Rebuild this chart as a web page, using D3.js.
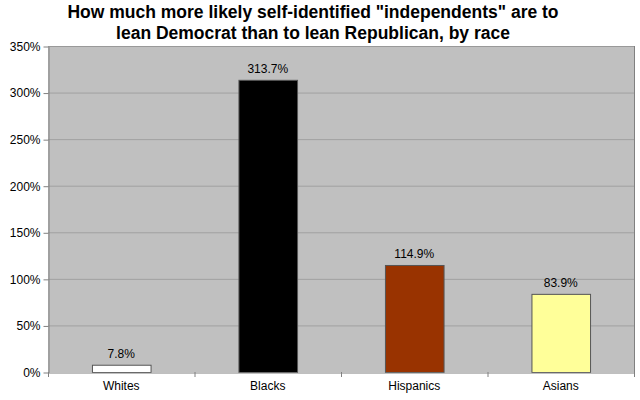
<!DOCTYPE html>
<html><head><meta charset="utf-8">
<script src="https://cdn.jsdelivr.net/npm/d3@7"></script>
<style>body{margin:0;background:#fff;}svg{display:block;font-family:Arial,"Liberation Sans",sans-serif;}</style>
</head><body><svg id="c" width="640" height="400"></svg>
<script>
const categories = ["Whites","Blacks","Hispanics","Asians"];
const values = [7.8, 313.7, 114.9, 83.9];
const colors = ["#ffffff","#000000","#993300","#ffff99"];
const yTicks = [0,50,100,150,200,250,300,350];
const titleLines = ["How much more likely self-identified \"independents\" are to","lean Democrat than to lean Republican, by race"];

const svg = d3.select("#c");
const L=48, R=634, T=46, B=372;
const x = d3.scaleBand().domain(categories).range([L,R]).paddingInner(0.6).paddingOuter(0.3);
const xb = d3.scaleBand().domain(categories).range([L,R]);
const y = d3.scaleLinear().domain([0,350]).range([B,T]);

svg.append("rect").attr("x",L).attr("y",T).attr("width",R-L).attr("height",B-T).attr("fill","#c0c0c0");
svg.append("g").selectAll("line").data(yTicks.slice(1,-1)).join("line")
  .attr("x1",L).attr("x2",R).attr("y1",d=>y(d)+0.5).attr("y2",d=>y(d)+0.5)
  .attr("stroke","#a0a0a0").attr("stroke-width",1);
svg.append("line").attr("x1",L).attr("x2",R).attr("y1",T+0.5).attr("y2",T+0.5).attr("stroke","#999").attr("stroke-width",1);
svg.append("line").attr("x1",R+0.5).attr("x2",R+0.5).attr("y1",T).attr("y2",B).attr("stroke","#808080").attr("stroke-width",1);

svg.append("g").selectAll("rect").data(values).join("rect")
  .attr("x",(d,i)=>x(categories[i])+0.5).attr("width",x.bandwidth())
  .attr("y",d=>y(d)+0.5).attr("height",d=>B-y(d))
  .attr("fill",(d,i)=>colors[i]).attr("stroke","#555").attr("stroke-width",1);

svg.append("g").selectAll("text").data(values).join("text")
  .attr("x",(d,i)=>x(categories[i])+x.bandwidth()/2).attr("y",d=>y(d)-7)
  .attr("text-anchor","middle").attr("font-size",12).attr("fill","#000")
  .text(d=>d.toFixed(1)+"%");

const yAxis = d3.axisLeft(y).tickValues(yTicks).tickFormat(d=>d+"%").tickSize(5).tickSizeOuter(0);
const gy = svg.append("g").attr("transform",`translate(${L+0.5},0.5)`).call(yAxis);
gy.select(".domain").attr("stroke","#808080");
gy.selectAll(".tick line").attr("stroke","#808080");
gy.selectAll(".tick text").attr("font-size",12).attr("fill","#000").attr("font-family","Arial,'Liberation Sans',sans-serif").attr("x",-8);

const xAxis = d3.axisBottom(xb).tickSize(0).tickSizeOuter(0);
const gx = svg.append("g").attr("transform",`translate(0,${B+0.5})`).call(xAxis);
gx.select(".domain").attr("stroke","#808080");
gx.selectAll(".tick text").attr("font-size",12).attr("fill","#000").attr("font-family","Arial,'Liberation Sans',sans-serif").attr("dy","1.2em");
svg.append("g").selectAll("line").data(categories.concat([null])).join("line")
  .attr("x1",(d,i)=>L+i*xb.bandwidth()+0.5).attr("x2",(d,i)=>L+i*xb.bandwidth()+0.5)
  .attr("y1",B).attr("y2",B+5).attr("stroke","#808080");

svg.append("g").selectAll("text").data(titleLines).join("text")
  .attr("x",313).attr("y",(d,i)=>17.5+i*21).attr("text-anchor","middle")
  .attr("font-size",17.5).attr("font-weight","bold").attr("fill","#000").text(d=>d);
</script></body></html>
